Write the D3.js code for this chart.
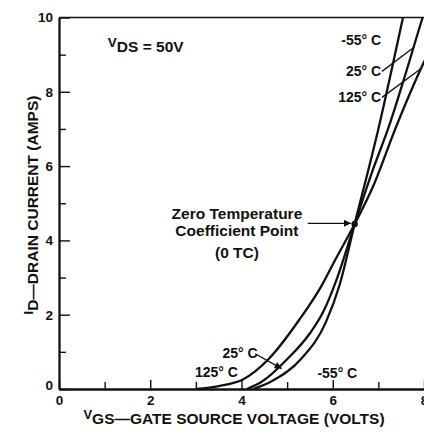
<!DOCTYPE html>
<html><head><meta charset="utf-8">
<script src="https://cdn.jsdelivr.net/npm/d3@7"></script>
<style>
html,body{margin:0;padding:0;background:#fff;overflow:hidden}
text{font-family:"Liberation Sans",Arial,Helvetica,sans-serif;font-weight:bold;fill:#111}
</style></head><body>
<svg id="c" width="424" height="436"></svg>
<script>
// ---- data ----
const xMajorTicks = [0, 2, 4, 6, 8];
const xMinorTicks = [1, 3, 5, 7];
const yMajorTicks = [0, 2, 4, 6, 8, 10];
const yMinorTicks = [1, 3, 5, 7, 9];
const seriesNames = ["-55° C", "25° C", "125° C"];
const vgsM55 = [4.26, 4.65, 5.3, 5.85, 6.15, 6.48, 7.0, 7.54, 7.7];
const idM55  = [0,    0.2,  0.8, 1.8,  2.8,  4.44, 7.0, 10.0, 10.9];
const vgs25  = [4.12, 4.45, 5.0, 5.5, 5.8, 6.1, 6.48, 6.85, 7.24, 7.6, 7.97, 8.1];
const id25   = [0,    0.2,  0.8, 1.5, 2.1, 3.0, 4.44, 5.8,  7.1,  8.5, 10.0, 10.5];
const vgs125 = [3.0, 3.5,  4.04, 4.59, 5.27, 5.75, 6.02, 6.48, 6.9, 7.37, 8.0, 8.2];
const id125  = [0,   0.08, 0.26, 0.8,  1.87, 2.77, 3.4,  4.44, 5.5, 7.0,  8.8, 9.3];
const zeroTC = [6.48, 4.44];

const svg = d3.select("#c");
const x = d3.scaleLinear().domain([0, 8]).range([59, 424]);
const y = d3.scaleLinear().domain([0, 10]).range([389, 17.5]);

svg.append("defs").append("clipPath").attr("id","plot")
  .append("rect").attr("x", x(0)).attr("y", y(10)).attr("width", x(8)-x(0)).attr("height", y(0)-y(10));
const mk = svg.select("defs").append("marker").attr("id","arr")
  .attr("viewBox","0 0 10 10").attr("refX",10).attr("refY",5)
  .attr("markerWidth",9).attr("markerHeight",7).attr("markerUnits","userSpaceOnUse")
  .attr("orient","auto");
mk.append("path").attr("d","M0,0L10,5L0,10Z").attr("fill","#111");

// axes
const gx = svg.append("g").attr("transform", `translate(0,${y(0)})`)
  .call(d3.axisBottom(x).tickValues(xMajorTicks).tickSizeInner(-9).tickSizeOuter(0).tickPadding(8).tickFormat(d3.format("d")));
const gx2 = svg.append("g").attr("transform", `translate(0,${y(0)})`)
  .call(d3.axisBottom(x).tickValues(xMinorTicks).tickSizeInner(-7).tickSizeOuter(0).tickFormat(""));
const gy = svg.append("g").attr("transform", `translate(${x(0)},0)`)
  .call(d3.axisLeft(y).tickValues(yMajorTicks).tickSizeInner(-11).tickSizeOuter(0).tickPadding(6).tickFormat(d3.format("d")));
const gy2 = svg.append("g").attr("transform", `translate(${x(0)},0)`)
  .call(d3.axisLeft(y).tickValues(yMinorTicks).tickSizeInner(-7).tickSizeOuter(0).tickFormat(""));
[gx, gx2, gy, gy2].forEach(g => {
  g.selectAll("path.domain").attr("stroke","#111").attr("stroke-width",1.8);
  g.selectAll("line").attr("stroke","#111").attr("stroke-width",1.4);
  g.selectAll("text").style("font-size","13.5px").attr("fill","#111");
});
gx.selectAll("text").attr("dy","0.6em");
gy.selectAll(".tick").filter(d => d === 0).select("text").attr("dy","0.05em");
// top border
svg.append("line").attr("x1", x(0)).attr("x2", x(8)).attr("y1", y(10)).attr("y2", y(10))
  .attr("stroke","#111").attr("stroke-width",1.6);

// curves
const line = d3.line().x(d => x(d[0])).y(d => y(d[1])).curve(d3.curveMonotoneX);
const series = [
  d3.zip(vgsM55, idM55), d3.zip(vgs25, id25), d3.zip(vgs125, id125)
];
const gc = svg.append("g").attr("clip-path","url(#plot)");
series.forEach(s => gc.append("path").attr("d", line(s)).attr("fill","none")
  .attr("stroke","#111").attr("stroke-width",2.3));

// zero TC point
svg.append("circle").attr("cx", x(zeroTC[0])).attr("cy", y(zeroTC[1])).attr("r",3.2).attr("fill","#111");
svg.append("line").attr("x1", x(5.45)).attr("y1", y(zeroTC[1]+0.02)).attr("x2", x(6.4)).attr("y2", y(zeroTC[1]+0.02))
  .attr("stroke","#111").attr("stroke-width",1.3).attr("marker-end","url(#arr)");
const tcLab = [["Zero Temperature", 4.72], ["Coefficient Point", 4.27], ["(0 TC)", 3.67]];
tcLab.forEach(t => svg.append("text").attr("x", x(3.9)).attr("y", y(t[1])).attr("dy","0.35em")
  .attr("text-anchor","middle").style("font-size","15.5px").text(t[0]));

// VDS label
const vds = svg.append("text").attr("x", x(1.07)).attr("y", y(9.08)).style("font-size","15.5px");
vds.append("tspan").style("font-size","13.5px").attr("dy","-5").text("V");
vds.append("tspan").attr("dy","5").text("DS = 50V");

// top curve labels with leaders
const topLab = [[seriesNames[0], 9.4, null], [seriesNames[1], 8.55, [7.78, 9.2]], [seriesNames[2], 7.85, [7.93, 8.62]]];
topLab.forEach(t => {
  svg.append("text").attr("x", x(7.06)).attr("y", y(t[1])).attr("dy","0.35em")
    .attr("text-anchor","end").style("font-size","14px").text(t[0]);
  if (t[2]) svg.append("line").attr("x1", x(7.08)).attr("y1", y(t[1])).attr("x2", x(t[2][0])).attr("y2", y(t[2][1]))
    .attr("stroke","#111").attr("stroke-width",1.3);
});

// bottom curve labels
svg.append("text").attr("x", x(3.45)).attr("y", y(0.46)).attr("dy","0.35em").attr("text-anchor","middle")
  .style("font-size","14px").text(seriesNames[2]);
svg.append("text").attr("x", x(3.97)).attr("y", y(0.96)).attr("dy","0.35em").attr("text-anchor","middle")
  .style("font-size","14px").text(seriesNames[1]);
svg.append("line").attr("x1", x(4.3)).attr("y1", y(0.95)).attr("x2", x(4.88)).attr("y2", y(0.55))
  .attr("stroke","#111").attr("stroke-width",1.3).attr("marker-end","url(#arr)");
svg.append("text").attr("x", x(6.1)).attr("y", y(0.42)).attr("dy","0.35em").attr("text-anchor","middle")
  .style("font-size","14px").text(seriesNames[0]);

// axis titles
const xt = svg.append("text").attr("x", 234).attr("y", 424).attr("text-anchor","middle").style("font-size","15.5px");
xt.append("tspan").style("font-size","13px").attr("dy","-5").text("V");
xt.append("tspan").attr("dy","5").text("GS—GATE SOURCE VOLTAGE (VOLTS)");
const yt = svg.append("text").attr("transform", `translate(38,205) rotate(-90)`).attr("text-anchor","middle").style("font-size","15.5px");
yt.append("tspan").style("font-size","13px").attr("dy","-5").text("I");
yt.append("tspan").attr("dy","5").text("D—DRAIN CURRENT (AMPS)");
</script></body></html>
